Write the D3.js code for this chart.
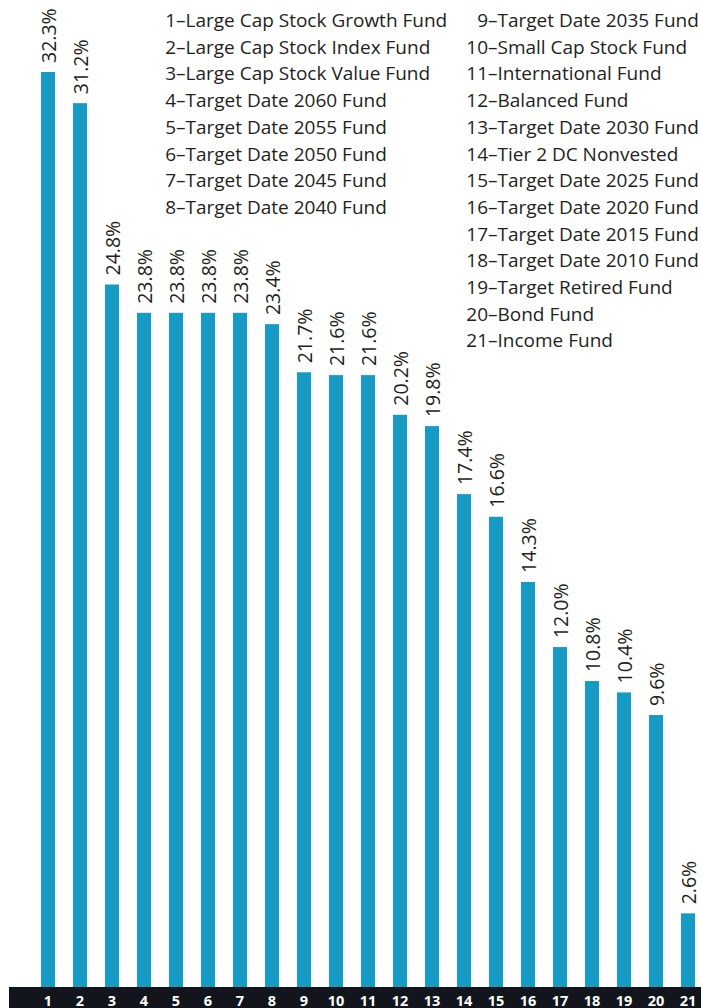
<!DOCTYPE html>
<html>
<head>
<meta charset="utf-8">
<script src="https://cdn.jsdelivr.net/npm/d3@7/dist/d3.min.js"></script>
<style>
  html, body { margin: 0; padding: 0; background: #fff; }
  svg { display: block; }
  text { font-family: "Open Sans", "Noto Sans", sans-serif; }
</style>
</head>
<body>
<div id="chart"></div>
<script>
// Fund numbers shown on the axis, in bar order
const fundIds = d3.range(1, 22).map(String);

// Share of participants holding each fund (%)
const shares = [32.3, 31.2, 24.8, 23.8, 23.8, 23.8, 23.8, 23.4, 21.7, 21.6, 21.6,
                20.2, 19.8, 17.4, 16.6, 14.3, 12.0, 10.8, 10.4, 9.6, 2.6];

// Fund names for the key
const fundNames = [
  "Large Cap Stock Growth Fund",
  "Large Cap Stock Index Fund",
  "Large Cap Stock Value Fund",
  "Target Date 2060 Fund",
  "Target Date 2055 Fund",
  "Target Date 2050 Fund",
  "Target Date 2045 Fund",
  "Target Date 2040 Fund",
  "Target Date 2035 Fund",
  "Small Cap Stock Fund",
  "International Fund",
  "Balanced Fund",
  "Target Date 2030 Fund",
  "Tier 2 DC Nonvested",
  "Target Date 2025 Fund",
  "Target Date 2020 Fund",
  "Target Date 2015 Fund",
  "Target Date 2010 Fund",
  "Target Retired Fund",
  "Bond Fund",
  "Income Fund"
];

const W = 701, H = 1008;
const barColor = "#169cc4";
const textColor = "#231f20";
const bandColor = "#12161c";
const baseY = 987;

const svg = d3.select("#chart").append("svg")
  .attr("width", W).attr("height", H);

const x = d3.scaleBand()
  .domain(fundIds)
  .range([32, 704])
  .paddingInner(0.5625)
  .paddingOuter(0.28125);

const y = d3.scaleLinear()
  .domain([0, d3.max(shares)])
  .range([baseY, 72]);

const data = fundIds.map((id, i) => ({ id, v: shares[i] }));

// Bars
svg.append("g").selectAll("rect")
  .data(data)
  .join("rect")
  .attr("x", d => x(d.id))
  .attr("y", d => y(d.v))
  .attr("width", x.bandwidth())
  .attr("height", d => y(0) - y(d.v))
  .attr("fill", barColor);

// Rotated value labels above each bar
const fmt = d3.format(".1f");
svg.append("g").selectAll("text")
  .data(data)
  .join("text")
  .attr("transform", d => `translate(${x(d.id) + x.bandwidth() / 2 + 8},${y(d.v) - 9}) rotate(-90)`)
  .attr("font-size", 19.5)
  .attr("fill", textColor)
  .text(d => fmt(d.v) + "%");

// Dark axis band with fund numbers
svg.append("rect")
  .attr("x", 9).attr("y", baseY)
  .attr("width", W - 9).attr("height", H - baseY)
  .attr("fill", bandColor);

const axis = d3.axisBottom(x).tickSize(0).tickPadding(0);
const gAxis = svg.append("g")
  .attr("transform", `translate(0,${baseY})`)
  .call(axis);
gAxis.select(".domain").remove();
gAxis.selectAll("text")
  .attr("fill", "#fff")
  .attr("font-size", 14.5)
  .attr("font-weight", "bold")
  .attr("dy", null)
  .attr("y", 18.5);

// Key: two columns, numbers right-aligned against the dash
const key = svg.append("g").attr("fill", textColor).attr("font-size", 19);
const colSplit = 8;
const lineH = 26.7;
const keyRows = fundNames.map((name, i) => ({
  num: String(i + 1),
  name,
  col: i < colSplit ? 0 : 1,
  row: i < colSplit ? i : i - colSplit
}));
const colX = [176, 488];
const rowsG = key.selectAll("g")
  .data(keyRows)
  .join("g")
  .attr("transform", d => `translate(${colX[d.col]},${27 + d.row * lineH})`);
rowsG.append("text")
  .attr("text-anchor", "end")
  .text(d => d.num);
rowsG.append("text")
  .text(d => "\u2013" + d.name);
</script>
</body>
</html>
